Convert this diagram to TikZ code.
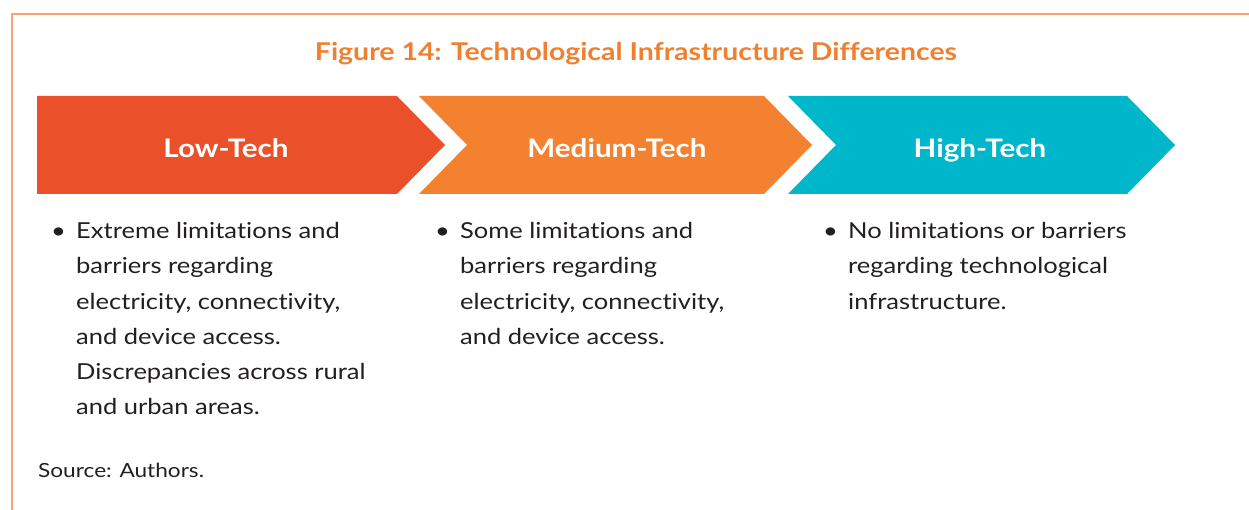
\documentclass[tikz,border=0pt]{standalone}
\usepackage{fontspec}
\setmainfont{Lato}[FakeStretch=1.16,Ligatures=NoCommon]
\definecolor{lowc}{HTML}{EA512B}
\definecolor{medc}{HTML}{F3812F}
\definecolor{highc}{HTML}{00B6CA}
\definecolor{titlec}{HTML}{F0802F}
\definecolor{framec}{HTML}{F6A66C}
\definecolor{textc}{HTML}{231F20}
\begin{document}
\begin{tikzpicture}[x=1pt,y=-1pt,
  frame/.style={draw=framec,line width=2pt},
  label/.style={text=white,font=\fontsize{25.5}{30}\selectfont\bfseries,inner sep=0pt,anchor=base},
  body/.style={text=textc,font=\fontsize{22}{35}\selectfont,inner sep=0pt,anchor=base west},
  titlestyle/.style={text=titlec,font=\fontsize{24.5}{30}\selectfont\bfseries,inner sep=0pt,anchor=base}]
\useasboundingbox (0,0) rectangle (1249,510);
\draw[frame] (12,511) -- (12,14) -- (1250,14);
\node[titlestyle] (title) at (636,61) {Figure 14: Technological Infrastructure Differences};
\fill[lowc] (37,96) -- (397,96) -- (445,145) -- (397,194) -- (37,194) -- cycle;
\fill[medc] (419,96) -- (764,96) -- (812,145) -- (764,194) -- (419,194) -- (467,145) -- cycle;
\fill[highc] (788,96) -- (1127,96) -- (1175,145) -- (1127,194) -- (788,194) -- (836,145) -- cycle;
\node[label] (lowlab) at (226,158) {Low-Tech};
\node[label] (medlab) at (617,158) {Medium-Tech};
\node[label] (highlab) at (980,158) {High-Tech};
\node[body] (lowbul) at (51,239) {•};
\node[body] (medbul) at (435,239) {•};
\node[body] (highbul) at (823,239) {•};
\foreach \t [count=\i from 0] in {Extreme limitations and, barriers regarding, {electricity, connectivity,}, and device access., Discrepancies across rural, and urban areas.}
  \node[body] (low\i) at (76,239+35*\i) {\t};
\foreach \t [count=\i from 0] in {Some limitations and, barriers regarding, {electricity, connectivity,}, and device access.}
  \node[body] (med\i) at (460,239+35*\i) {\t};
\foreach \t [count=\i from 0] in {No limitations or barriers, regarding technological, infrastructure.}
  \node[body] (high\i) at (848,239+35*\i) {\t};
\node[body,font=\fontsize{19.5}{24}\selectfont] (source) at (38,477) {Source: Authors.};
\end{tikzpicture}
\end{document}
